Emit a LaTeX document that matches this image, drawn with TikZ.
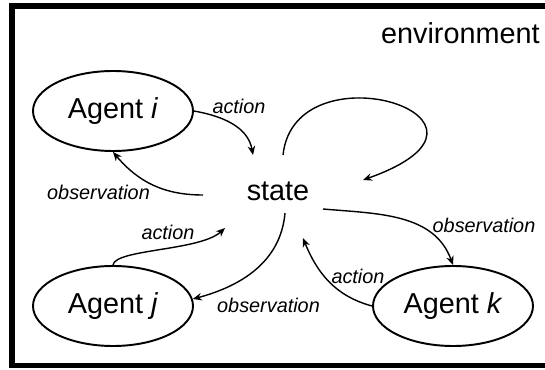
\documentclass[tikz,border=0pt]{standalone}
\usepackage{fontspec}
\setmainfont{Liberation Sans}
\usepackage{tikz}
\usetikzlibrary{arrows.meta,shapes.geometric}
\tikzset{>={Stealth[length=1.8mm,width=1.5mm]}}

\begin{document}
\begin{tikzpicture}[
  agent/.style={draw,ellipse,line width=1.1pt,minimum width=3.2cm,minimum height=1.6cm,inner sep=0pt,font=\fontsize{16.4}{18}\selectfont},
  lbl/.style={font=\fontsize{11.3}{13}\selectfont\itshape},
  link/.style={->,line width=0.8pt}]
  \clip (0,0) rectangle (10.9,7.38);

  % Environment frame
  \draw[line width=0.11cm] (0.24,0.07) rectangle (11.3,7.26);
  \node[anchor=base east,inner sep=0pt,font=\fontsize{16.4}{18}\selectfont] (env) at (10.8,6.52) {environment};

  % State
  \node[font=\fontsize{16.4}{18}\selectfont] (state) at (5.56,3.55) {state};

  % Agents
  \node[agent] (ai) at (2.26,5.16) {Agent \textit{i}};
  \node[agent] (aj) at (2.26,1.26) {Agent \textit{j}};
  \node[agent] (ak) at (9.06,1.26) {Agent \textit{k}};

  % Ends next to the state
  \coordinate (s1) at (5.06,4.28);
  \coordinate (s2) at (4.06,3.48);
  \coordinate (s3) at (5.66,4.28);
  \coordinate (s4) at (7.26,3.78);
  \coordinate (s5) at (4.5,2.82);
  \coordinate (s6) at (5.7,3.12);
  \coordinate (s7) at (6.46,3.2);
  \coordinate (s8) at (6.06,2.62);

  % Edges
  \draw[link] (ai.east) to[out=-10,in=100] (s1);
  \draw[link] (s2) to[out=180,in=-50] (ai.south);
  \draw[link] (s3) .. controls (5.9,6.5) and (10.7,5.0) .. (s4);
  \draw[link] (aj.north) .. controls (2.3,2.4) and (4.0,2.36) .. (s5);
  \draw[link] (s6) to[out=-95,in=15] (aj.5);
  \draw[link] (s7) to[out=-5,in=110] (ak.north);
  \draw[link] (ak.west) to[out=165,in=-68] (s8);

  % Labels
  \node[lbl] at (4.78,5.25) {action};
  \node[lbl] at (1.97,3.54) {observation};
  \node[lbl] at (3.36,2.74) {action};
  \node[lbl] at (5.37,1.28) {observation};
  \node[lbl] at (9.68,2.88) {observation};
  \node[lbl] at (7.16,1.86) {action};
\end{tikzpicture}
\end{document}
